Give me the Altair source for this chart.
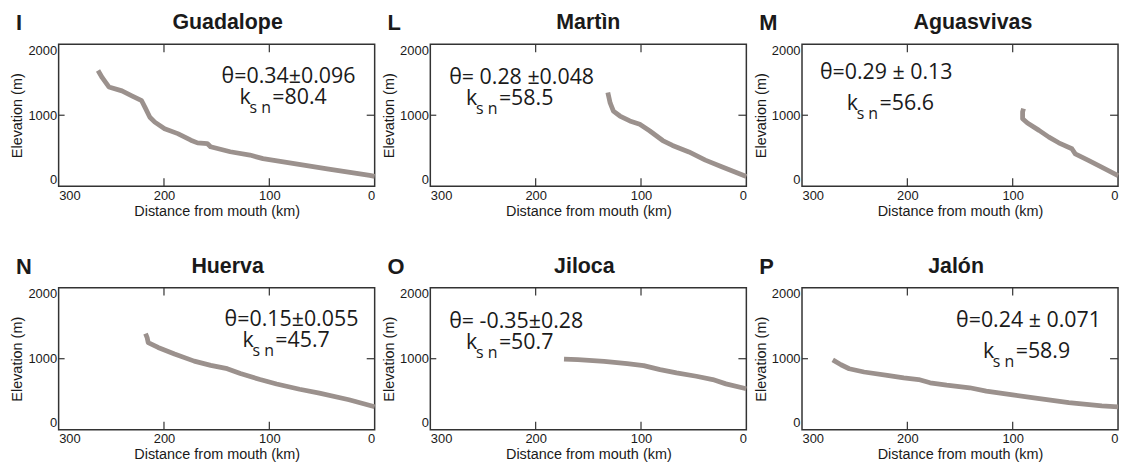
import altair as alt
import pandas as pd

rivers = ["Guadalope", "Martìn", "Aguasvivas", "Huerva", "Jiloca", "Jalón"]
letters = ["I", "L", "M", "N", "O", "P"]
theta_txt = ["θ=0.34±0.096", "θ= 0.28 ±0.048", "θ=0.29 ± 0.13",
             "θ=0.15±0.055", "θ= -0.35±0.28", "θ=0.24 ± 0.071"]
ksn_txt = ["=80.4", "=58.5", "=56.6", "=45.7", "=50.7", "=58.9"]

guad_km = [262.6, 258.6, 252.3, 239.9, 230.5, 221.2, 218, 213.4, 208.7, 199.4, 186.9, 174.5, 168.2, 158.9, 155.8, 137.1, 118.4, 106, 74.8, 43.6, 4.7, 0]
guad_el = [1630, 1528, 1398, 1343, 1273, 1204, 1111, 972, 903, 810, 741, 648, 611, 602, 556, 486, 440, 389, 315, 241, 153, 140]
mart_km = [131.5, 129.3, 126.2, 120, 110.6, 101.2, 91.9, 79.4, 70.1, 54.5, 38.9, 23.4, 7.8, 0]
mart_el = [1320, 1173, 1058, 989, 920, 874, 782, 644, 575, 483, 368, 276, 184, 138]
agua_km = [89.7, 90.6, 90.6, 86, 75, 65.6, 56.3, 43.8, 40.6, 28.1, 15.6, 0]
agua_el = [1093, 1046, 951, 890, 787, 692, 612, 528, 457, 363, 268, 151]
huer_km = [217.5, 216, 215, 205.6, 190, 171.3, 155.6, 140, 127.5, 108.8, 93.1, 71.3, 52.5, 24.4, 0]
huer_el = [1352, 1297, 1228, 1159, 1067, 966, 906, 860, 791, 708, 644, 570, 515, 423, 325]
jilo_km = [173.1, 160, 135, 113.1, 97.5, 81.9, 66.3, 47.5, 31.9, 19.4, 0]
jilo_el = [995, 986, 963, 930, 902, 846, 800, 753, 707, 646, 577]
jalo_km = [270.8, 263, 255.2, 241.1, 219.1, 203.4, 189.3, 178.4, 162.7, 140.8, 125.1, 100, 78.1, 46.7, 15.4, 0]
jalo_el = [984, 915, 859, 813, 767, 730, 707, 661, 628, 591, 545, 490, 444, 383, 337, 323]

profiles = [(guad_km, guad_el), (mart_km, mart_el), (agua_km, agua_el),
            (huer_km, huer_el), (jilo_km, jilo_el), (jalo_km, jalo_el)]

x_ticks = [300, 200, 100, 0]
y_ticks = [0, 1000, 2000]
inner_x_ticks = [200, 100]
inner_y_ticks = [1000]

W, H = 318, 143
LINE = "#9b918d"
FRAME = "#333333"
TXT = "#1a1a1a"

# annotation placement (pixels, relative to plot area): theta (x, y), k (x, y), title dx
layout = [
    dict(tx=164, ty=33, kx=182, ky=54, tdx=11),
    dict(tx=19, ty=34, kx=36, ky=55, tdx=0),
    dict(tx=18, ty=29, kx=45, ky=60, tdx=13),
    dict(tx=167, ty=33, kx=185, ky=54, tdx=11),
    dict(tx=19, ty=35, kx=36, ky=56, tdx=-4),
    dict(tx=155, ty=34, kx=182, ky=65, tdx=-4),
]

xs = alt.Scale(domain=[0, 300], reverse=True, nice=False)
ys = alt.Scale(domain=[0, 2000], nice=False)
x_axis = alt.Axis(values=x_ticks, title="Distance from mouth (km)", format="d")
y_axis = alt.Axis(values=y_ticks, title="Elevation (m)", format="d")
one = pd.DataFrame({"d": [0]})


def txt(text, x, y, size, weight="normal", font="Open Sans", align="left"):
    return alt.Chart(one).mark_text(
        text=text, fontSize=size, fontWeight=weight, font=font, align=align,
        baseline="middle", color=TXT
    ).encode(x=alt.value(x), y=alt.value(y))


def panel(i):
    km, el = profiles[i]
    L = layout[i]
    df = pd.DataFrame({"km": km, "el": el, "i": list(range(len(km)))})
    line = alt.Chart(df).mark_line(
        color=LINE, strokeWidth=4.8, strokeJoin="round", strokeCap="butt"
    ).encode(
        x=alt.X("km:Q", scale=xs, axis=x_axis),
        y=alt.Y("el:Q", scale=ys, axis=y_axis),
        order="i:Q",
    )
    tdf = pd.DataFrame({"km": inner_x_ticks})
    top_t = alt.Chart(tdf).mark_rule(color=FRAME, strokeWidth=1.2).encode(
        x=alt.X("km:Q", scale=xs, axis=x_axis), y=alt.value(0), y2=alt.value(8))
    bot_t = alt.Chart(tdf).mark_rule(color=FRAME, strokeWidth=1.2).encode(
        x=alt.X("km:Q", scale=xs, axis=x_axis), y=alt.value(H - 8), y2=alt.value(H))
    ydf = pd.DataFrame({"el": inner_y_ticks})
    left_t = alt.Chart(ydf).mark_rule(color=FRAME, strokeWidth=1.2).encode(
        y=alt.Y("el:Q", scale=ys, axis=y_axis), x=alt.value(0), x2=alt.value(6))
    right_t = alt.Chart(ydf).mark_rule(color=FRAME, strokeWidth=1.2).encode(
        y=alt.Y("el:Q", scale=ys, axis=y_axis), x=alt.value(W - 8), x2=alt.value(W))

    letter = txt(letters[i], -43, -21, 22, weight="bold", font="Liberation Sans")
    title = txt(rivers[i], W / 2 + L["tdx"], -21, 21.5, weight="bold",
                font="Liberation Sans", align="center")
    theta = txt(theta_txt[i], L["tx"], L["ty"], 21.5)
    k = txt("k", L["kx"], L["ky"], 21.5)
    sn = txt("s n", L["kx"] + 10, L["ky"] + 10, 16)
    eq = txt(ksn_txt[i], L["kx"] + 33, L["ky"], 21.5)

    return alt.layer(line, top_t, bot_t, left_t, right_t,
                     letter, title, theta, k, sn, eq).properties(width=W, height=H)


row1 = alt.hconcat(panel(0), panel(1), panel(2), spacing=2)
row2 = alt.hconcat(panel(3), panel(4), panel(5), spacing=2)

chart = alt.vconcat(row1, row2, spacing=36).properties(
    padding={"left": 9, "top": 10, "right": 2, "bottom": 2},
    background="white",
).configure_view(
    stroke=FRAME, strokeWidth=1.5
).configure_axis(
    domain=False, ticks=False, grid=False,
    labelFont="Liberation Sans", labelFontSize=13, labelColor=TXT,
    titleFont="Liberation Sans", titleFontSize=14.5, titleFontWeight="normal",
    titleColor=TXT,
).configure_axisX(
    labelPadding=3, titlePadding=2
).configure_axisY(
    labelPadding=2, titlePadding=3, labelFlush=True
)

chart.save("out.html", embed_options={"renderer": "svg", "actions": False})
